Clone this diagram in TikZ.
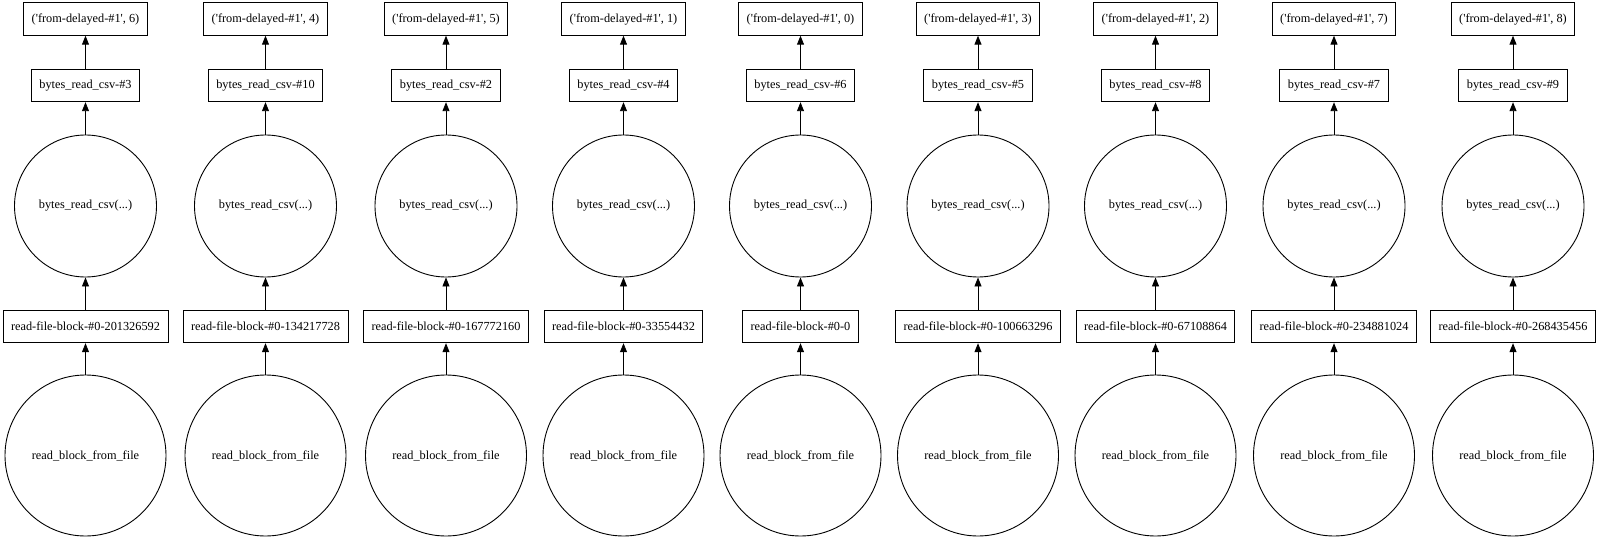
\documentclass[tikz,border=0pt]{standalone}
\usepackage{fontspec}
\setmainfont{Liberation Serif}
\usetikzlibrary{arrows.meta}
\begin{document}
\begin{tikzpicture}[x=1pt,y=1pt,
  every node/.style={font=\fontsize{12.3}{14}\selectfont},
  taskbox/.style={draw, line width=0.9pt, rectangle, inner xsep=8pt, inner ysep=0pt, minimum height=32.5pt},
  funcsmall/.style={draw, line width=0.9pt, circle, inner sep=0pt, minimum size=142pt},
  funcbig/.style={draw, line width=0.9pt, circle, inner sep=0pt, minimum size=161pt},
  dep/.style={-{Triangle[length=9pt,width=7pt]}, line width=0.9pt}
]
\useasboundingbox (0,0) rectangle (1600,-540);
\foreach \i/\cx/\k/\b/\r in {1/85.5/6/3/201326592, 2/265.5/4/10/134217728, 3/446/5/2/167772160, 4/623.5/1/4/33554432, 5/800.5/0/6/0, 6/978/3/5/100663296, 7/1155.5/2/8/67108864, 8/1334/7/7/234881024, 9/1513/8/9/268435456}{
  \node[taskbox] (top\i) at (\cx,-19) {(\textquotesingle from-delayed-\#1\textquotesingle, \k)};
  \node[taskbox] (bytes\i) at (\cx,-85.5) {bytes\_read\_csv-\#\b};
  \node[funcsmall] (csv\i) at (\cx,-206) {bytes\_read\_csv(...)};
  \node[taskbox] (rfb\i) at (\cx,-326.5) {read-file-block-\#0-\r};
  \node[funcbig] (rbf\i) at (\cx,-455.5) {read\_block\_from\_file};
  \draw[dep] (rbf\i) -- (rfb\i);
  \draw[dep] (rfb\i) -- (csv\i);
  \draw[dep] (csv\i) -- (bytes\i);
  \draw[dep] (bytes\i) -- (top\i);
}
\end{tikzpicture}
\end{document}
